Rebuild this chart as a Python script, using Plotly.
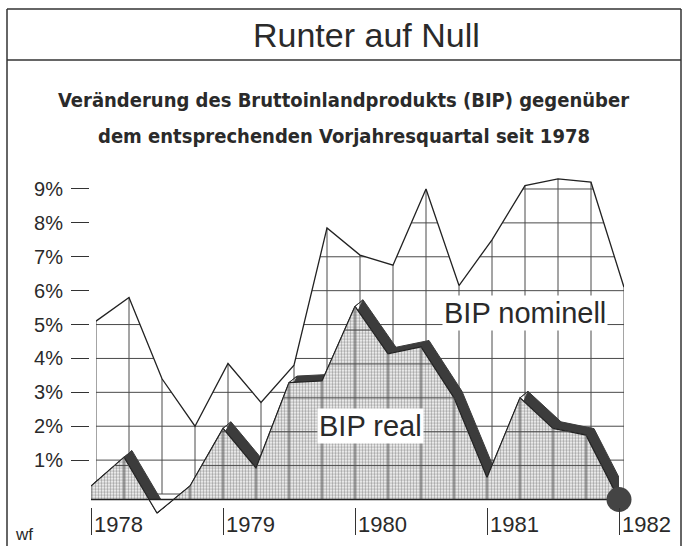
import plotly.graph_objects as go

W, H = 683, 546

# ---------------- data ----------------
quarters = list(range(17))  # 1978 Q1 ... 1982 Q1
year_labels = ["1978", "1979", "1980", "1981", "1982"]
year_pos = [0, 4, 8, 12, 16]
nominal = [5.1, 5.8, 3.4, 2.0, 3.85, 2.7, 3.8, 7.85, 7.05, 6.75, 9.0, 6.15, 7.5, 9.1, 9.3, 9.2, 6.1]
real = [0.4, 1.25, -0.4, 0.4, 2.1, 0.93, 3.45, 3.5, 5.7, 4.3, 4.5, 3.0, 0.65, 3.0, 2.1, 1.9, 0.0]
pct_ticks = [1, 2, 3, 4, 5, 6, 7, 8, 9]
pct_labels = [f"{v}%" for v in pct_ticks]

# ---------------- helpers ----------------
def px_x(p):
    return p / W

def px_y(p):
    return 1 - p / H


def clip_h(xs, ys, level):
    ox, oy = [], []
    for i in range(len(xs) - 1):
        x0, y0, x1, y1 = xs[i], ys[i], xs[i + 1], ys[i + 1]
        a0, a1 = y0 >= level, y1 >= level
        if not a0 and not a1:
            continue
        sx = x0 if a0 else x0 + (level - y0) / (y1 - y0) * (x1 - x0)
        ex = x1 if a1 else x0 + (level - y0) / (y1 - y0) * (x1 - x0)
        ox += [sx, ex, None]
        oy += [level, level, None]
    return ox, oy


def verticals(xs, ys):
    ox, oy = [], []
    for x, y in zip(xs, ys):
        if y > 0:
            ox += [x, x, None]
            oy += [0, y, None]
    return ox, oy


def with_cross(xs, ys, level=0.0):
    ox, oy = [xs[0]], [ys[0]]
    for i in range(len(xs) - 1):
        x0, y0, x1, y1 = xs[i], ys[i], xs[i + 1], ys[i + 1]
        if (y0 - level) * (y1 - level) < 0:
            t = (level - y0) / (y1 - y0)
            ox.append(x0 + t * (x1 - x0))
            oy.append(level)
        ox.append(x1)
        oy.append(y1)
    return ox, oy


# plane geometry (pixels)
Q = 33.0          # px per quarter
S = 33.89         # px per percent
nom_x0 = 96
nom_zero = 494
real_x0 = 91
real_zero = 499.5
nom_yr = [-0.5, 10]
real_yr = [-0.42, 10]

GRID = "#4a4a4a"
INK = "#222222"
TXT = "#2a2a2a"
SANS = "Liberation Sans, Arial, sans-serif"
COND = "DejaVu Sans Condensed, Liberation Sans Narrow, Roboto Condensed, Arial Narrow, sans-serif"

fig = go.Figure()

# ---------- nominal plane (x, y) ----------
for lv in [0] + pct_ticks:
    if lv == 0:
        gx, gy = [0, 16], [0, 0]
    else:
        gx, gy = clip_h(quarters, nominal, lv)
    fig.add_trace(go.Scatter(x=gx, y=gy, mode="lines", line=dict(color=GRID, width=1),
                             hoverinfo="skip", showlegend=False, xaxis="x", yaxis="y"))
vx, vy = verticals(quarters, nominal)
fig.add_trace(go.Scatter(x=vx, y=vy, mode="lines", line=dict(color=GRID, width=1),
                         hoverinfo="skip", showlegend=False, xaxis="x", yaxis="y"))
fig.add_trace(go.Scatter(x=quarters, y=nominal, mode="lines", line=dict(color=INK, width=1.3),
                         hoverinfo="skip", showlegend=False, xaxis="x", yaxis="y"))

# ---------- real plane (x2, y2) ----------
dxq = 8 / Q
dyp = 6.5 / S
rx, ry = [], []
for i in range(len(quarters) - 1):
    x0, y0, x1, y1 = quarters[i], real[i], quarters[i + 1], real[i + 1]
    rx += [x0, x1, x1 + dxq, x0 + dxq, x0, None]
    ry += [y0, y1, y1 + dyp, y0 + dyp, y0, None]
fig.add_trace(go.Scatter(x=rx, y=ry, mode="lines", fill="toself", fillcolor="#3c3c3c",
                         line=dict(color="#3c3c3c", width=1), hoverinfo="skip",
                         showlegend=False, xaxis="x2", yaxis="y2"))

cx, cy = with_cross(quarters, real, 0.0)
pos_y = [max(v, 0) for v in cy]
neg_y = [min(v, 0) for v in cy]
fig.add_trace(go.Scatter(x=cx, y=pos_y, mode="lines", fill="tozeroy",
                         fillpattern=dict(shape=".", fgcolor="#444444", bgcolor="#ffffff",
                                          size=3.0, solidity=0.5),
                         line=dict(color=INK, width=1.2), hoverinfo="skip",
                         showlegend=False, xaxis="x2", yaxis="y2"))
fig.add_trace(go.Scatter(x=cx, y=neg_y, mode="lines", fill="tozeroy", fillcolor="#ffffff",
                         line=dict(color=INK, width=1.2), hoverinfo="skip",
                         showlegend=False, xaxis="x2", yaxis="y2"))
for lv in pct_ticks:
    gx, gy = clip_h(quarters, real, lv)
    if gx:
        fig.add_trace(go.Scatter(x=gx, y=gy, mode="lines", line=dict(color=GRID, width=1),
                                 hoverinfo="skip", showlegend=False, xaxis="x2", yaxis="y2"))
vx, vy = verticals(quarters, real)
fig.add_trace(go.Scatter(x=vx, y=vy, mode="lines", line=dict(color=GRID, width=1),
                         hoverinfo="skip", showlegend=False, xaxis="x2", yaxis="y2"))
fig.add_trace(go.Scatter(x=[0, 16], y=[0, 0], mode="lines", line=dict(color=INK, width=1.3),
                         hoverinfo="skip", showlegend=False, xaxis="x2", yaxis="y2"))
fig.add_trace(go.Scatter(x=[quarters[-1]], y=[real[-1]], mode="markers",
                         marker=dict(size=25, color="#444444"), cliponaxis=False,
                         hoverinfo="skip", showlegend=False, xaxis="x2", yaxis="y2"))

# ---------- axes ----------
def ydom(zero, yr):
    bottom = zero - yr[0] * S
    top = zero - yr[1] * S
    return [px_y(bottom), px_y(top)]

fig.update_layout(
    width=W, height=H,
    margin=dict(l=0, r=0, t=0, b=0),
    paper_bgcolor="white", plot_bgcolor="rgba(0,0,0,0)",
    showlegend=False,
    xaxis=dict(domain=[px_x(nom_x0), px_x(nom_x0 + 16 * Q)], range=[0, 16],
               visible=False, fixedrange=True),
    yaxis=dict(domain=ydom(nom_zero, nom_yr), range=nom_yr, anchor="free",
               position=px_x(89), showgrid=False, zeroline=False, showline=False,
               tickvals=pct_ticks, ticktext=pct_labels, ticks="outside", ticklen=18,
               tickwidth=1.3, tickcolor="#333333", ticklabelstandoff=4,
               tickfont=dict(family=SANS, size=20, color=TXT)),
    xaxis2=dict(domain=[px_x(real_x0), px_x(real_x0 + 16 * Q)], range=[0, 16],
                anchor="free", position=px_y(507), showgrid=False, zeroline=False,
                showline=False, tickvals=year_pos, ticks="outside", ticklen=27,
                tickwidth=1.3, tickcolor="#333333", showticklabels=False),
    yaxis2=dict(domain=ydom(real_zero, real_yr), range=real_yr, anchor="x2",
                visible=False),
)

def note(text, x, y, size, family=SANS, xanchor="center", **kw):
    return dict(x=px_x(x), y=px_y(y), xref="paper", yref="paper", text=text,
                showarrow=False, xanchor=xanchor, yanchor="middle",
                font=dict(family=family, size=size, color=TXT), **kw)

ann = []
for lab, xp in zip(year_labels, year_pos):
    ann.append(dict(x=xp, xref="x2", y=px_y(524), yref="paper", text=lab, showarrow=False,
                    xanchor="left", yanchor="middle", xshift=1,
                    font=dict(family=SANS, size=22, color=TXT)))
ann += [
    note("Runter auf Null", 366, 35, 34),
    note("<b>Veränderung des Bruttoinlandprodukts (BIP) gegenüber</b>", 343, 100, 20, family=COND),
    note("<b>dem entsprechenden Vorjahresquartal seit 1978</b>", 344, 136, 20, family=COND),
    note("BIP nominell", 525, 313, 29, bgcolor="white", borderpad=1),
    note("BIP real", 370, 426, 29, bgcolor="white", borderpad=1),
    note("wf", 13, 534, 17, xanchor="left"),
]
fig.update_layout(annotations=ann)

BORDER = dict(color="#333333", width=1.5)
shapes = [
    dict(type="line", xref="paper", yref="paper", x0=px_x(7), x1=px_x(681), y0=px_y(9), y1=px_y(9), line=BORDER),
    dict(type="line", xref="paper", yref="paper", x0=px_x(7), x1=px_x(681), y0=px_y(60), y1=px_y(60), line=BORDER),
    dict(type="line", xref="paper", yref="paper", x0=px_x(7), x1=px_x(7), y0=px_y(9), y1=px_y(546), line=BORDER),
    dict(type="line", xref="paper", yref="paper", x0=px_x(681), x1=px_x(681), y0=px_y(9), y1=px_y(546), line=BORDER),
]
fig.update_layout(shapes=shapes)

fig.write_html("out.html", config={"displayModeBar": False},
               post_script="document.body.style.margin='0';")
